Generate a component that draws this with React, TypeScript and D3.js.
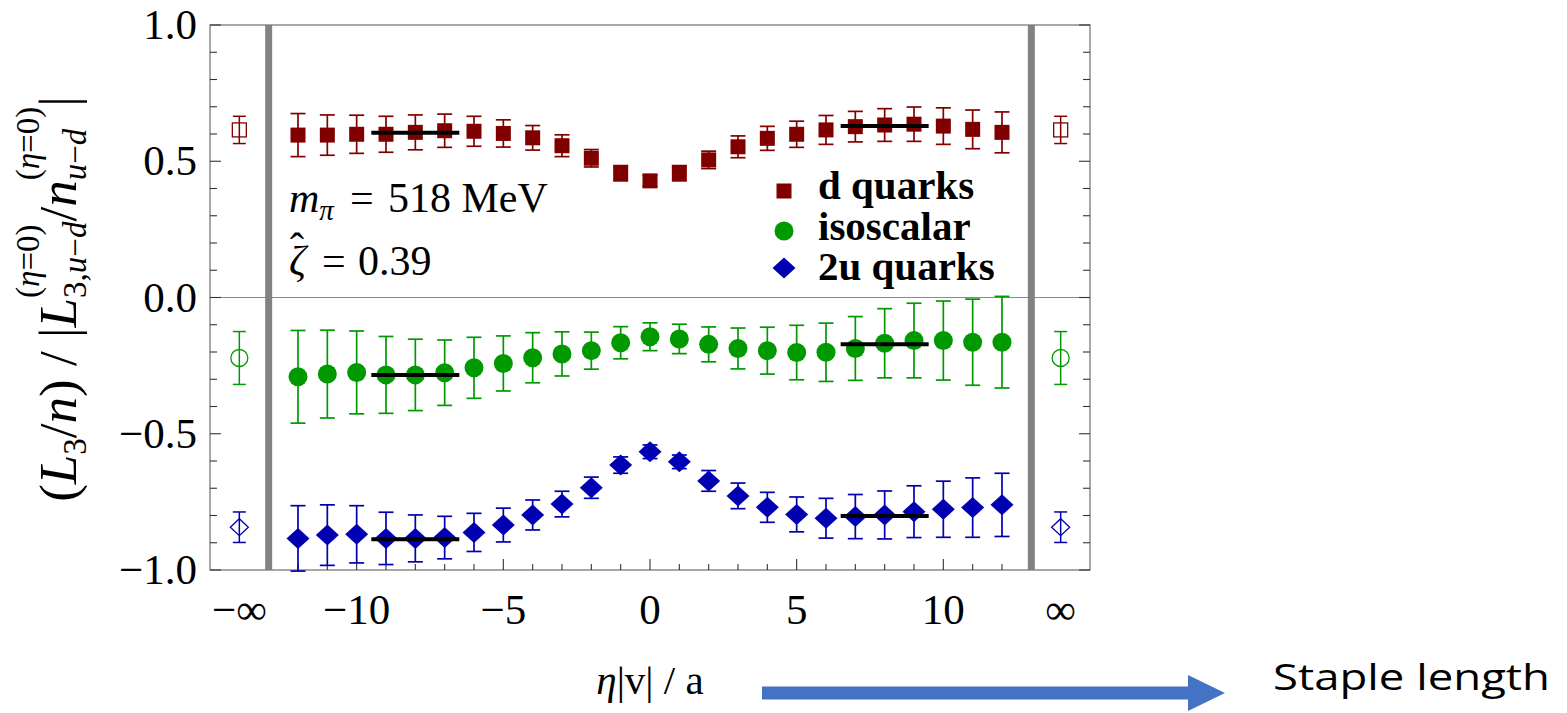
import React, { useEffect, useRef } from 'react';
import * as d3 from 'd3';

// ---------- data ----------
const etaValues = [-12, -11, -10, -9, -8, -7, -6, -5, -4, -3, -2, -1, 0, 1, 2, 3, 4, 5, 6, 7, 8, 9, 10, 11, 12];

const dQuarks = [0.596, 0.596, 0.599, 0.599, 0.606, 0.612, 0.610, 0.602, 0.586, 0.557, 0.511, 0.456, 0.428, 0.456, 0.505, 0.553, 0.584, 0.599, 0.615, 0.627, 0.633, 0.636, 0.629, 0.617, 0.606];
const dQuarksErr = [0.079, 0.074, 0.070, 0.066, 0.064, 0.061, 0.055, 0.050, 0.045, 0.040, 0.032, 0.028, 0.020, 0.028, 0.032, 0.040, 0.044, 0.048, 0.053, 0.056, 0.060, 0.063, 0.067, 0.071, 0.075];

const isoscalar = [-0.291, -0.281, -0.275, -0.284, -0.284, -0.276, -0.258, -0.242, -0.221, -0.207, -0.195, -0.166, -0.144, -0.152, -0.172, -0.187, -0.195, -0.202, -0.201, -0.187, -0.168, -0.158, -0.158, -0.164, -0.164];
const isoscalarErr = [0.170, 0.161, 0.152, 0.141, 0.131, 0.120, 0.112, 0.101, 0.092, 0.081, 0.068, 0.059, 0.051, 0.054, 0.064, 0.075, 0.086, 0.100, 0.107, 0.117, 0.127, 0.137, 0.145, 0.158, 0.168];

const uQuarks = [-0.884, -0.872, -0.869, -0.884, -0.884, -0.881, -0.862, -0.835, -0.798, -0.758, -0.698, -0.615, -0.566, -0.603, -0.673, -0.728, -0.770, -0.796, -0.810, -0.804, -0.798, -0.786, -0.777, -0.771, -0.761];
const uQuarksErr = [0.120, 0.111, 0.105, 0.096, 0.086, 0.078, 0.070, 0.062, 0.055, 0.047, 0.039, 0.030, 0.025, 0.025, 0.038, 0.047, 0.055, 0.064, 0.073, 0.081, 0.088, 0.095, 0.103, 0.109, 0.116];

// values at eta -> +-infinity (open symbols)
const infPositions = [-14, 14];
const infValues = [0.615, -0.222, -0.843];
const infErrors = [0.050, 0.097, 0.056];

// plateau fits
const plateauRanges = [[-9.5, -6.5], [6.5, 9.5]];
const dPlateau = [0.605, 0.629];
const isoPlateau = [-0.284, -0.172];
const uPlateau = [-0.887, -0.802];

const wallPositions = [-13, 13];

const xTickValues = [-14, -10, -5, 0, 5, 10, 14];
const xTickLabels = ['−∞', '−10', '−5', '0', '5', '10', '∞'];
const xMinorTicks = [-12, -11, -10, -9, -8, -7, -6, -5, -4, -3, -2, -1, 0, 1, 2, 3, 4, 5, 6, 7, 8, 9, 10, 11, 12];
const yTickValues = [1, 0.5, 0, -0.5, -1];
const yTickLabels = ['1.0', '0.5', '0.0', '−0.5', '−1.0'];

const legendLabels = ['d quarks', 'isoscalar', '2u quarks'];
const seriesColors = ['#800000', '#009a00', '#0000b2'];

const SERIF = "'Liberation Serif', 'Times New Roman', serif";

type Run = { t: string; it?: boolean };

export default function App() {
  const ref = useRef<SVGSVGElement | null>(null);

  useEffect(() => {
    const svg = d3.select(ref.current);
    svg.selectAll('*').remove();

    const x = d3.scaleLinear().domain([-15, 15]).range([210, 1090]);
    const y = d3.scaleLinear().domain([-1, 1]).range([570, 25]);
    const [x0, x1] = x.range();
    const [yb, yt] = y.range();

    // zero line
    svg.append('line').attr('x1', x0).attr('x2', x1).attr('y1', y(0)).attr('y2', y(0))
      .attr('stroke', '#8a8a8a').attr('stroke-width', 1);

    // walls
    wallPositions.forEach((w) => {
      svg.append('rect').attr('x', x(w) - 3.5).attr('y', yt).attr('width', 7).attr('height', yb - yt)
        .attr('fill', '#828282');
    });

    // frame
    svg.append('rect').attr('x', x0).attr('y', yt).attr('width', x1 - x0).attr('height', yb - yt)
      .attr('fill', 'none').attr('stroke', '#7a7a7a').attr('stroke-width', 1.3);

    // y ticks (left and right, inward)
    const yMinor = d3.range(-10, 11).map((k) => k / 10);
    yMinor.forEach((v) => {
      const major = Math.abs(Math.round(v * 10) % 5) === 0;
      const len = major ? 11 : 7;
      svg.append('line').attr('x1', x0).attr('x2', x0 + len).attr('y1', y(v)).attr('y2', y(v))
        .attr('stroke', '#333').attr('stroke-width', 1.1);
      svg.append('line').attr('x1', x1).attr('x2', x1 - len).attr('y1', y(v)).attr('y2', y(v))
        .attr('stroke', '#333').attr('stroke-width', 1.1);
    });
    // x ticks
    xMinorTicks.forEach((v) => {
      const major = v % 5 === 0;
      const len = major ? 11 : 6;
      svg.append('line').attr('x1', x(v)).attr('x2', x(v)).attr('y1', yb).attr('y2', yb - len)
        .attr('stroke', '#333').attr('stroke-width', 1.1);
    });

    // tick labels
    yTickValues.forEach((v, i) => {
      svg.append('text').attr('x', 197).attr('y', y(v) + 14).attr('text-anchor', 'end')
        .attr('font-family', SERIF).attr('font-size', 43).attr('fill', '#000').text(yTickLabels[i]);
    });
    xTickValues.forEach((v, i) => {
      svg.append('text').attr('x', x(v)).attr('y', 624).attr('text-anchor', 'middle')
        .attr('font-family', SERIF).attr('font-size', 43).attr('fill', '#000').text(xTickLabels[i]);
    });

    // series
    const series = [
      { vals: dQuarks, errs: dQuarksErr, shape: 'square', plateau: dPlateau },
      { vals: isoscalar, errs: isoscalarErr, shape: 'circle', plateau: isoPlateau },
      { vals: uQuarks, errs: uQuarksErr, shape: 'diamond', plateau: uPlateau },
    ];

    const drawMarker = (g: any, cx: number, cy: number, shape: string, color: string, open: boolean, scale = 1) => {
      const fill = open ? 'none' : color;
      const sw = open ? 1.3 : 0;
      if (shape === 'square') {
        const s = (open ? 14 : 15) * scale;
        g.append('rect').attr('x', cx - s / 2).attr('y', cy - s / 2).attr('width', s).attr('height', s)
          .attr('fill', fill).attr('stroke', color).attr('stroke-width', sw);
      } else if (shape === 'circle') {
        const r = (open ? 8.5 : 9.5) * scale;
        g.append('circle').attr('cx', cx).attr('cy', cy).attr('r', r)
          .attr('fill', fill).attr('stroke', color).attr('stroke-width', sw);
      } else {
        const hw = (open ? 9 : 11.5) * scale;
        const hh = (open ? 8.5 : 10.5) * scale;
        g.append('path').attr('d', `M${cx - hw},${cy}L${cx},${cy - hh}L${cx + hw},${cy}L${cx},${cy + hh}Z`)
          .attr('fill', fill).attr('stroke', color).attr('stroke-width', sw);
      }
    };

    const errG = svg.append('g');
    const markG = svg.append('g');
    series.forEach((s, si) => {
      const color = seriesColors[si];
      etaValues.forEach((eta, i) => {
        const cx = x(eta);
        const v = s.vals[i];
        const e = s.errs[i];
        const cw = 7.5;
        errG.append('line').attr('x1', cx).attr('x2', cx).attr('y1', y(v + e)).attr('y2', y(v - e))
          .attr('stroke', color).attr('stroke-width', 1.7);
        [v + e, v - e].forEach((yy) => {
          errG.append('line').attr('x1', cx - cw).attr('x2', cx + cw).attr('y1', y(yy)).attr('y2', y(yy))
            .attr('stroke', color).attr('stroke-width', 1.7);
        });
        drawMarker(markG, cx, y(v), s.shape, color, false);
      });
      // infinity points
      infPositions.forEach((p) => {
        const cx = x(p);
        const v = infValues[si];
        const e = infErrors[si];
        const cw = 6.5;
        errG.append('line').attr('x1', cx).attr('x2', cx).attr('y1', y(v + e)).attr('y2', y(v - e))
          .attr('stroke', color).attr('stroke-width', 1.5);
        [v + e, v - e].forEach((yy) => {
          errG.append('line').attr('x1', cx - cw).attr('x2', cx + cw).attr('y1', y(yy)).attr('y2', y(yy))
            .attr('stroke', color).attr('stroke-width', 1.5);
        });
        drawMarker(markG, cx, y(v), s.shape, color, true);
      });
    });

    // plateau lines
    series.forEach((s) => {
      plateauRanges.forEach((r, k) => {
        svg.append('line').attr('x1', x(r[0])).attr('x2', x(r[1]))
          .attr('y1', y(s.plateau[k])).attr('y2', y(s.plateau[k]))
          .attr('stroke', '#000').attr('stroke-width', 4);
      });
    });

    // legend
    const legendY = [191, 231, 268];
    const legendBase = [199, 240, 280];
    series.forEach((s, si) => {
      drawMarker(svg, 784, legendY[si], s.shape, seriesColors[si], false);
      svg.append('text').attr('x', 818).attr('y', legendBase[si])
        .attr('font-family', SERIF).attr('font-weight', 'bold').attr('font-size', 41)
        .attr('fill', '#000').text(legendLabels[si]);
    });

    // helper to lay out runs
    const putRuns = (g: any, xStart: number, yBase: number, size: number, runs: Run[]) => {
      let cx = xStart;
      runs.forEach((r) => {
        const t = g.append('text').attr('x', cx).attr('y', yBase)
          .attr('font-family', SERIF).attr('font-size', size)
          .attr('font-style', r.it ? 'italic' : 'normal')
          .attr('fill', '#000').style('white-space', 'pre').text(r.t);
        cx += (t.node() as SVGTextElement).getComputedTextLength();
      });
      return cx - xStart;
    };

    // annotations
    {
      const g = svg.append('g');
      const mw = putRuns(g, 289, 212, 42, [{ t: 'm', it: true }]);
      putRuns(g, 289 + mw, 220, 29, [{ t: 'π', it: true }]);
      putRuns(g, 350, 212, 42, [{ t: '=' }]);
      putRuns(g, 388, 212, 42, [{ t: '518 MeV' }]);
      // zeta with hat: one text element, hat as a shifted tspan
      const zt = g.append('text').attr('x', 289).attr('y', 275)
        .attr('font-family', SERIF).attr('font-size', 42).attr('fill', '#000');
      const zs = zt.append('tspan').attr('font-style', 'italic').text('ζ');
      const zw = (zs.node() as SVGTSpanElement).getComputedTextLength();
      const hs = zt.append('tspan').attr('dy', -13).text('ˆ');
      const hw = (hs.node() as SVGTSpanElement).getComputedTextLength();
      hs.attr('dx', 297 - (289 + zw) - hw / 2);
      putRuns(g, 322, 275, 42, [{ t: '=' }]);
      putRuns(g, 358, 275, 42, [{ t: '0.39' }]);
    }

    // x axis label
    {
      const g = svg.append('g');
      const w = putRuns(g, 0, 694, 41, [{ t: 'η', it: true }, { t: '|v| / a' }]);
      g.attr('transform', `translate(${650 - w / 2},0)`);
    }

    // y axis label
    {
      const F = 53;
      const S = 33;
      const supShift = -37;
      const subShift = 10;
      const g = svg.append('g');
      let cx = 0;
      const main = (runs: Run[]) => { cx += putRuns(g, cx, 0, F, runs); };
      const stack = (sup: Run[] | null, sub: Run[] | null) => {
        let w1 = 0, w2 = 0;
        if (sup) w1 = putRuns(g, cx, supShift, S, sup);
        if (sub) w2 = putRuns(g, cx, subShift, S, sub);
        cx += Math.max(w1, w2);
      };
      const etaSup: Run[] = [{ t: '(' }, { t: 'η', it: true }, { t: '=0)' }];
      main([{ t: '(' }, { t: 'L', it: true }]);
      stack(null, [{ t: '3' }]);
      main([{ t: '/' }, { t: 'n', it: true }, { t: ')' }, { t: ' / |' }, { t: 'L', it: true }]);
      stack(etaSup, [{ t: '3,' }, { t: 'u', it: true }, { t: '−' }, { t: 'd', it: true }]);
      main([{ t: '/' }, { t: 'n', it: true }]);
      stack(etaSup, [{ t: 'u', it: true }, { t: '−' }, { t: 'd', it: true }]);
      main([{ t: '|' }]);
      g.attr('transform', `translate(76,299) rotate(-90) translate(${-cx / 2},0)`);
    }

    // arrow
    svg.append('path')
      .attr('d', 'M762,686.5L1188,686.5L1188,675L1225,693L1188,711L1188,699.5L762,699.5Z')
      .attr('fill', '#4472c4');
    svg.append('text').attr('x', 1273).attr('y', 690)
      .attr('font-family', "'Open Sans', 'Noto Sans', sans-serif").attr('font-size', 36)
      .attr('textLength', 277).attr('lengthAdjust', 'spacingAndGlyphs')
      .attr('fill', '#000').text('Staple length');
  }, []);

  return (
    <svg ref={ref} width={1567} height={713}
      style={{ position: 'absolute', left: 0, top: 0, background: '#fff' }} />
  );
}
